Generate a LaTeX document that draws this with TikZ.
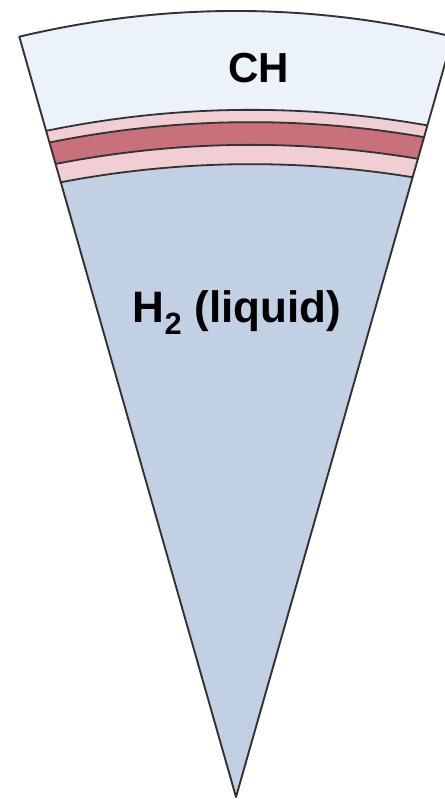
\documentclass[tikz,border=0pt]{standalone}
\usepackage{fontspec}
\setmainfont{Liberation Sans}
\usetikzlibrary{calc}
\definecolor{chblue}{RGB}{235,242,250}
\definecolor{lightpink}{RGB}{240,206,212}
\definecolor{darkpink}{RGB}{201,113,122}
\definecolor{fuelblue}{RGB}{193,208,227}
\definecolor{edgegray}{RGB}{50,50,50}

\begin{document}
\begin{tikzpicture}[
  x=1pt, y=-1pt,
  edge/.style={draw=edgegray, line width=1.9pt, line join=round},
  layer/.style={draw=edgegray, line width=1.8pt},
  label/.style={font=\fontsize{42}{50}\selectfont\bfseries, text=black, inner sep=0pt, anchor=base}
]
\useasboundingbox (0,0) rectangle (444,799);

% Wedge corners
\coordinate (apex) at (236,797);
\coordinate (tl)   at (19.3,36.7);
\coordinate (tr)   at (452.7,36.7);

% Layers (clipped to the wedge)
\begin{scope}
  \clip (apex) -- (tl) .. controls (163.8,2.4) and (308.2,2.4) .. (tr) -- cycle;
  \fill[fuelblue] (-30,-30) rectangle (520,820);
  \foreach \y/\col in {164.3/lightpink, 145/darkpink, 122.3/lightpink, 110/chblue}
    \fill[\col] (-24,\y+37.7) .. controls (149.3,\y-10) and (322.7,\y-12.6) .. (496,\y+29.9)
      -- (496,-40) -- (-24,-40) -- cycle;
  \foreach \y in {110,122.3,145,164.3}
    \draw[layer] (-24,\y+37.7) .. controls (149.3,\y-10) and (322.7,\y-12.6) .. (496,\y+29.9);
\end{scope}

% Outline
\draw[edge] (apex) -- (tl) .. controls (163.8,2.4) and (308.2,2.4) .. (tr) -- cycle;

% Labels
\node[label] (ch)   at (258.5,83) {CH};
\node[label, font=\fontsize{44}{52}\selectfont\bfseries] (fuel) at (237,322) {H\textsubscript{2} (liquid)};

\end{tikzpicture}
\end{document}
